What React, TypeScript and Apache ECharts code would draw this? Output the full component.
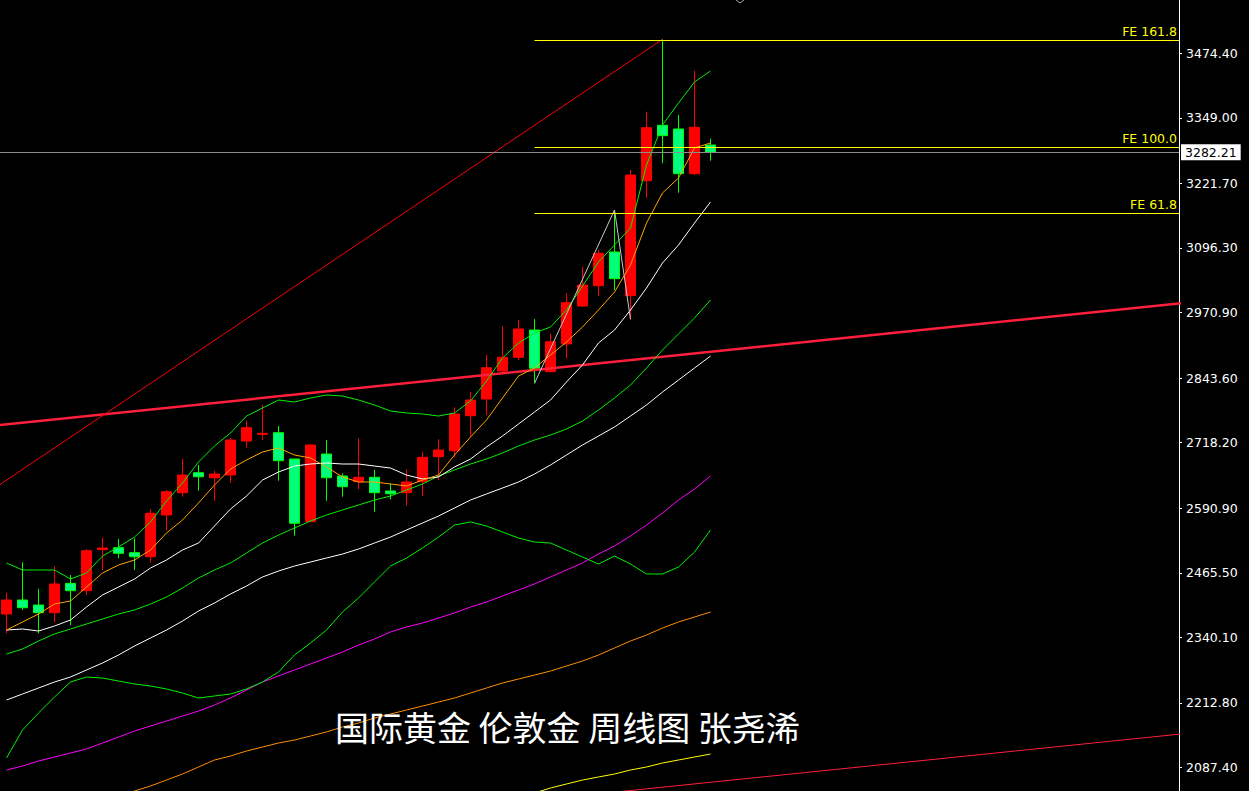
import React, { useEffect, useRef } from 'react';
import * as echarts from 'echarts';

// Weekly candles [open, close, low, high]; index 0 is the leftmost candle
const candles: number[][] = [
  [2385.5, 2412.7, 2348.0, 2426.9],
  [2412.7, 2397.7, 2393.3, 2485.9],
  [2403.0, 2388.0, 2348.0, 2434.6],
  [2388.0, 2443.8, 2369.4, 2478.7],
  [2445.1, 2430.8, 2364.1, 2461.2],
  [2430.8, 2508.4, 2422.4, 2511.7],
  [2510.8, 2513.7, 2471.0, 2533.7],
  [2514.3, 2503.4, 2493.7, 2531.2],
  [2504.6, 2496.8, 2471.0, 2532.5],
  [2496.8, 2581.1, 2485.1, 2588.8],
  [2577.8, 2623.0, 2547.3, 2626.3],
  [2621.1, 2655.4, 2613.3, 2686.5],
  [2659.9, 2652.1, 2625.0, 2674.9],
  [2650.2, 2657.4, 2605.5, 2663.8],
  [2655.4, 2723.4, 2640.5, 2727.3],
  [2721.5, 2747.3, 2708.5, 2760.9],
  [2734.5, 2736.4, 2723.4, 2791.4],
  [2737.6, 2683.2, 2644.4, 2750.6],
  [2686.5, 2561.7, 2537.6, 2686.5],
  [2564.8, 2713.7, 2564.2, 2715.0],
  [2696.2, 2650.2, 2605.5, 2723.4],
  [2653.5, 2632.7, 2613.3, 2658.8],
  [2642.4, 2651.0, 2627.7, 2726.7],
  [2651.0, 2621.1, 2584.2, 2665.2],
  [2624.4, 2619.1, 2608.3, 2639.3],
  [2621.1, 2641.9, 2595.8, 2666.5],
  [2642.4, 2689.8, 2614.7, 2700.7],
  [2691.0, 2704.0, 2645.7, 2724.8],
  [2702.6, 2773.9, 2689.8, 2786.9],
  [2770.6, 2801.1, 2729.8, 2817.2],
  [2803.0, 2863.8, 2772.0, 2888.5],
  [2857.4, 2884.0, 2856.1, 2944.8],
  [2884.0, 2939.0, 2878.8, 2956.5],
  [2937.0, 2862.7, 2833.5, 2958.4],
  [2856.1, 2914.3, 2855.5, 2930.6],
  [2909.9, 2990.1, 2882.1, 3008.3],
  [2983.6, 3024.4, 2982.3, 3060.0],
  [3023.1, 3086.0, 3003.1, 3092.4],
  [3088.5, 3036.7, 3014.7, 3170.1],
  [3003.7, 3238.0, 2957.8, 3247.8],
  [3227.0, 3329.9, 3194.0, 3361.0],
  [3334.6, 3314.4, 3260.8, 3501.6],
  [3327.4, 3240.6, 3203.7, 3354.6],
  [3240.6, 3330.7, 3238.0, 3440.6],
  [3296.3, 3282.21, 3265.8, 3308.5],
];

const maOrange = [2354.4, 2370.0, 2385.5, 2404.9, 2410.8, 2437.9, 2465.1, 2480.7, 2490.4, 2509.8, 2542.8, 2568.1, 2601.1, 2636.0, 2667.1, 2684.6, 2700.1, 2707.9, 2694.3, 2688.5, 2671.0, 2651.6, 2641.9, 2641.9, 2638.0, 2634.1, 2645.7, 2655.4, 2694.3, 2729.2, 2762.3, 2805.0, 2847.7, 2863.2, 2888.5, 2913.7, 2942.9, 2975.9, 3010.8, 3063.3, 3144.8, 3203.1, 3232.2, 3290.5, 3300.2];
const maWhite = [2354.4, 2356.4, 2352.5, 2362.2, 2373.9, 2399.1, 2422.4, 2437.9, 2453.5, 2474.8, 2490.4, 2509.8, 2523.4, 2556.4, 2589.4, 2614.7, 2645.7, 2661.3, 2672.9, 2676.8, 2678.8, 2676.8, 2676.8, 2672.9, 2669.0, 2655.4, 2647.7, 2651.6, 2671.0, 2686.5, 2709.8, 2731.2, 2754.5, 2777.8, 2801.1, 2836.1, 2869.1, 2911.8, 2937.0, 2975.9, 3018.6, 3067.2, 3102.1, 3144.8, 3185.6];
const bollMid = [2307.8, 2317.5, 2333.1, 2346.7, 2356.4, 2366.1, 2375.8, 2385.5, 2393.3, 2404.9, 2418.5, 2436.0, 2455.4, 2471.0, 2484.6, 2504.0, 2523.4, 2538.9, 2552.5, 2566.1, 2577.8, 2587.5, 2597.2, 2606.9, 2614.7, 2626.3, 2638.0, 2653.5, 2665.2, 2676.8, 2686.5, 2698.2, 2711.8, 2723.4, 2733.1, 2744.8, 2760.3, 2781.7, 2805.0, 2830.2, 2863.2, 2898.2, 2929.3, 2960.3, 2995.3];
const bollUpper = [2484.6, 2471.0, 2471.0, 2471.0, 2453.5, 2465.1, 2498.1, 2515.6, 2535.0, 2564.2, 2605.0, 2639.9, 2680.7, 2711.8, 2737.0, 2770.0, 2785.6, 2801.1, 2797.2, 2805.0, 2810.8, 2808.9, 2801.1, 2791.4, 2779.7, 2775.9, 2773.9, 2770.0, 2775.9, 2799.2, 2838.0, 2882.7, 2911.8, 2931.2, 2942.9, 2975.9, 3022.5, 3069.1, 3102.1, 3135.1, 3257.5, 3335.1, 3377.9, 3418.7, 3440.0];
const bollLower = [2105.9, 2160.2, 2193.3, 2224.3, 2253.5, 2263.2, 2261.2, 2255.4, 2249.6, 2245.7, 2239.9, 2232.1, 2222.4, 2226.3, 2230.2, 2239.9, 2253.5, 2272.9, 2305.9, 2329.2, 2354.4, 2389.4, 2416.6, 2447.7, 2478.7, 2494.3, 2513.7, 2535.0, 2558.3, 2564.2, 2556.4, 2544.8, 2533.1, 2525.3, 2523.4, 2509.8, 2496.2, 2482.6, 2498.1, 2482.6, 2463.2, 2463.2, 2476.8, 2505.9, 2548.6];
const maWhite2 = [2218.5, 2230.2, 2241.8, 2253.5, 2263.2, 2276.8, 2290.4, 2305.9, 2323.4, 2338.9, 2354.4, 2371.9, 2391.3, 2406.9, 2424.4, 2439.9, 2457.4, 2469.0, 2478.7, 2486.5, 2494.3, 2502.0, 2511.7, 2523.4, 2535.0, 2548.6, 2562.2, 2575.8, 2591.4, 2606.9, 2618.6, 2630.2, 2641.9, 2657.4, 2674.9, 2694.3, 2713.7, 2731.2, 2748.7, 2770.0, 2791.4, 2816.6, 2839.9, 2863.2, 2886.5];
const maMagenta = [2082.6, 2090.3, 2100.0, 2107.8, 2115.6, 2123.3, 2135.0, 2146.6, 2158.3, 2168.0, 2177.7, 2187.4, 2197.1, 2208.8, 2222.4, 2237.9, 2253.5, 2265.1, 2276.8, 2288.4, 2300.1, 2311.7, 2325.3, 2337.0, 2350.6, 2360.3, 2368.0, 2377.7, 2387.5, 2399.1, 2408.8, 2420.5, 2432.1, 2443.8, 2457.4, 2471.0, 2484.6, 2502.0, 2517.6, 2537.0, 2558.3, 2581.7, 2606.9, 2628.3, 2653.5];
const maOrangeLow = [null, null, null, null, null, null, null, 2030.1, 2041.8, 2051.5, 2063.1, 2074.8, 2088.4, 2102.0, 2109.7, 2119.5, 2127.2, 2135.0, 2140.8, 2148.6, 2156.4, 2166.1, 2173.8, 2183.5, 2191.3, 2199.1, 2206.8, 2214.6, 2222.4, 2232.1, 2241.8, 2251.5, 2259.3, 2267.0, 2274.8, 2284.5, 2294.2, 2305.9, 2319.5, 2333.1, 2344.7, 2358.3, 2370.0, 2379.7, 2389.4];
const maYellow = [null, null, null, null, null, null, null, null, null, null, null, null, null, null, null, null, null, null, null, null, null, null, null, null, null, null, null, null, null, null, null, null, null, 2037.9, 2047.6, 2055.4, 2063.1, 2069.0, 2074.8, 2082.6, 2088.4, 2096.2, 2102.0, 2107.8, 2113.6];

// Trend lines as [candle index, price]
const channelTop: number[][] = [[-1, 2750.6], [74, 2990.8]];
const channelBottom: number[][] = [[38, 2039.6], [74, 2154.4]];
const upperTrend: number[][] = [[-1, 2624.6], [41, 3501.6]];
const zigzag: number[][] = [[33, 2833.5], [38, 3170.1], [39, 2957.8]];

const feLevels = [
  { name: 'FE 161.8', value: 3500.2 },
  { name: 'FE 100.0', value: 3292.4 },
  { name: 'FE 61.8', value: 3164.3 },
];
const feStart = 33;
const lastPrice = 3282.21;

const yTicks = [2087.40, 2212.80, 2340.10, 2465.50, 2590.90, 2718.20, 2843.60, 2970.90, 3096.30, 3221.70, 3349.00, 3474.40];
const yMin = 2041.8;
const yMax = 3577.9;
const xMin = -0.40625;
const xMax = xMin + 1179 / 16;

const title = '国际黄金 伦敦金 周线图 张尧浠';
const AXIS_FONT = 'DejaVu Sans';

export default function App() {
  const ref = useRef<HTMLDivElement>(null);
  useEffect(() => {
    document.body.style.margin = '0';
    document.body.style.background = '#000';
    const chart = echarts.init(ref.current!, null, { renderer: 'svg' });
    const withIdx = (arr: (number | null)[]) => arr.map((v, i) => [i, v]);
    const line = (name: string, data: any[], color: string, width = 1, z = 3) => ({
      type: 'line', name, data, symbol: 'none', showSymbol: false, silent: true,
      lineStyle: { color, width }, itemStyle: { color }, z, clip: true,
      connectNulls: false,
    });
    const option: any = {
      animation: false,
      backgroundColor: '#000000',
      grid: { left: 0, right: 70, top: 0, bottom: 0, containLabel: false },
      xAxis: { type: 'value', min: xMin, max: xMax, show: false },
      yAxis: {
        type: 'value', position: 'right', min: yMin, max: yMax, scale: true,
        axisLine: { show: true, onZero: false, lineStyle: { color: '#ffffff', width: 1 } },
        axisTick: { show: true, customValues: yTicks, length: 3, inside: false, lineStyle: { color: '#ffffff', width: 1 } },
        axisLabel: {
          show: true, customValues: yTicks, margin: 7, color: '#ffffff',
          fontFamily: AXIS_FONT, fontSize: 12.5,
          formatter: (v: number) => v.toFixed(2),
        },
        splitLine: { show: false },
      },
      series: [
        line('channelTop', channelTop, '#ff1e3c', 2.5, 2),
        line('channelBottom', channelBottom, '#ff1e3c', 1, 2),
        line('upperTrend', upperTrend, '#ff0000', 1, 2),
        {
          type: 'candlestick', name: 'XAUUSD',
          data: candles.map((c, i) => [i, c[0], c[1], c[2], c[3]]),
          encode: { x: 0, y: [1, 2, 3, 4] },
          barWidth: 10, z: 1,
          itemStyle: {
            color: '#ff0000', borderColor: '#ff0000',
            color0: '#00ff7f', borderColor0: '#00ff00', borderWidth: 1,
          },
          markLine: {
            silent: true, symbol: ['none', 'none'], animation: false,
            data: [
              ...feLevels.map((f) => [
                {
                  name: f.name, coord: [feStart, f.value],
                  lineStyle: { color: '#ffff00', width: 1, type: 'solid' },
                  label: {
                    show: true, position: 'insideEndTop', formatter: '{b}', color: '#ffff00',
                    fontFamily: AXIS_FONT, fontSize: 12.5, distance: 2,
                  },
                },
                { coord: [xMax, f.value] },
              ]),
              {
                name: 'price', yAxis: lastPrice,
                lineStyle: { color: '#8c8c8c', width: 1, type: 'solid' },
                label: {
                  show: true, position: 'end', formatter: lastPrice.toFixed(2),
                  backgroundColor: '#ffffff', color: '#000000', padding: [2, 4, 1, 4],
                  fontFamily: AXIS_FONT, fontSize: 12.5, distance: 2,
                },
              },
            ],
          },
        },
        line('maOrangeLow', withIdx(maOrangeLow), '#ff8c00'),
        line('maYellow', withIdx(maYellow), '#ffff00'),
        line('maMagenta', withIdx(maMagenta), '#ff00ff'),
        line('bollLower', withIdx(bollLower), '#00f000'),
        line('maWhite2', withIdx(maWhite2), '#ffffff'),
        line('bollMid', withIdx(bollMid), '#00f000'),
        line('maWhite', withIdx(maWhite), '#ffffff'),
        line('bollUpper', withIdx(bollUpper), '#00f000'),
        line('maOrange', withIdx(maOrange), '#ffa500'),
        line('zigzag', zigzag, '#c8c8c8', 1, 4),
      ],
      graphic: [
        {
          type: 'text', left: 335, top: 709, z: 100,
          style: {
            text: title, fill: '#ffffff',
            fontFamily: 'Noto Sans CJK SC', fontSize: 34, fontWeight: 'normal',
          },
        },
        {
          type: 'polyline', z: 100,
          shape: { points: [[736, 0], [740, 3], [744, 0]] },
          style: { stroke: '#aaaaaa', lineWidth: 1, fill: 'none' },
        },
      ],
    };
    chart.setOption(option);
    return () => chart.dispose();
  }, []);
  return <div ref={ref} style={{ position: 'absolute', left: 0, top: 0, width: 1249, height: 791 }} />;
}
